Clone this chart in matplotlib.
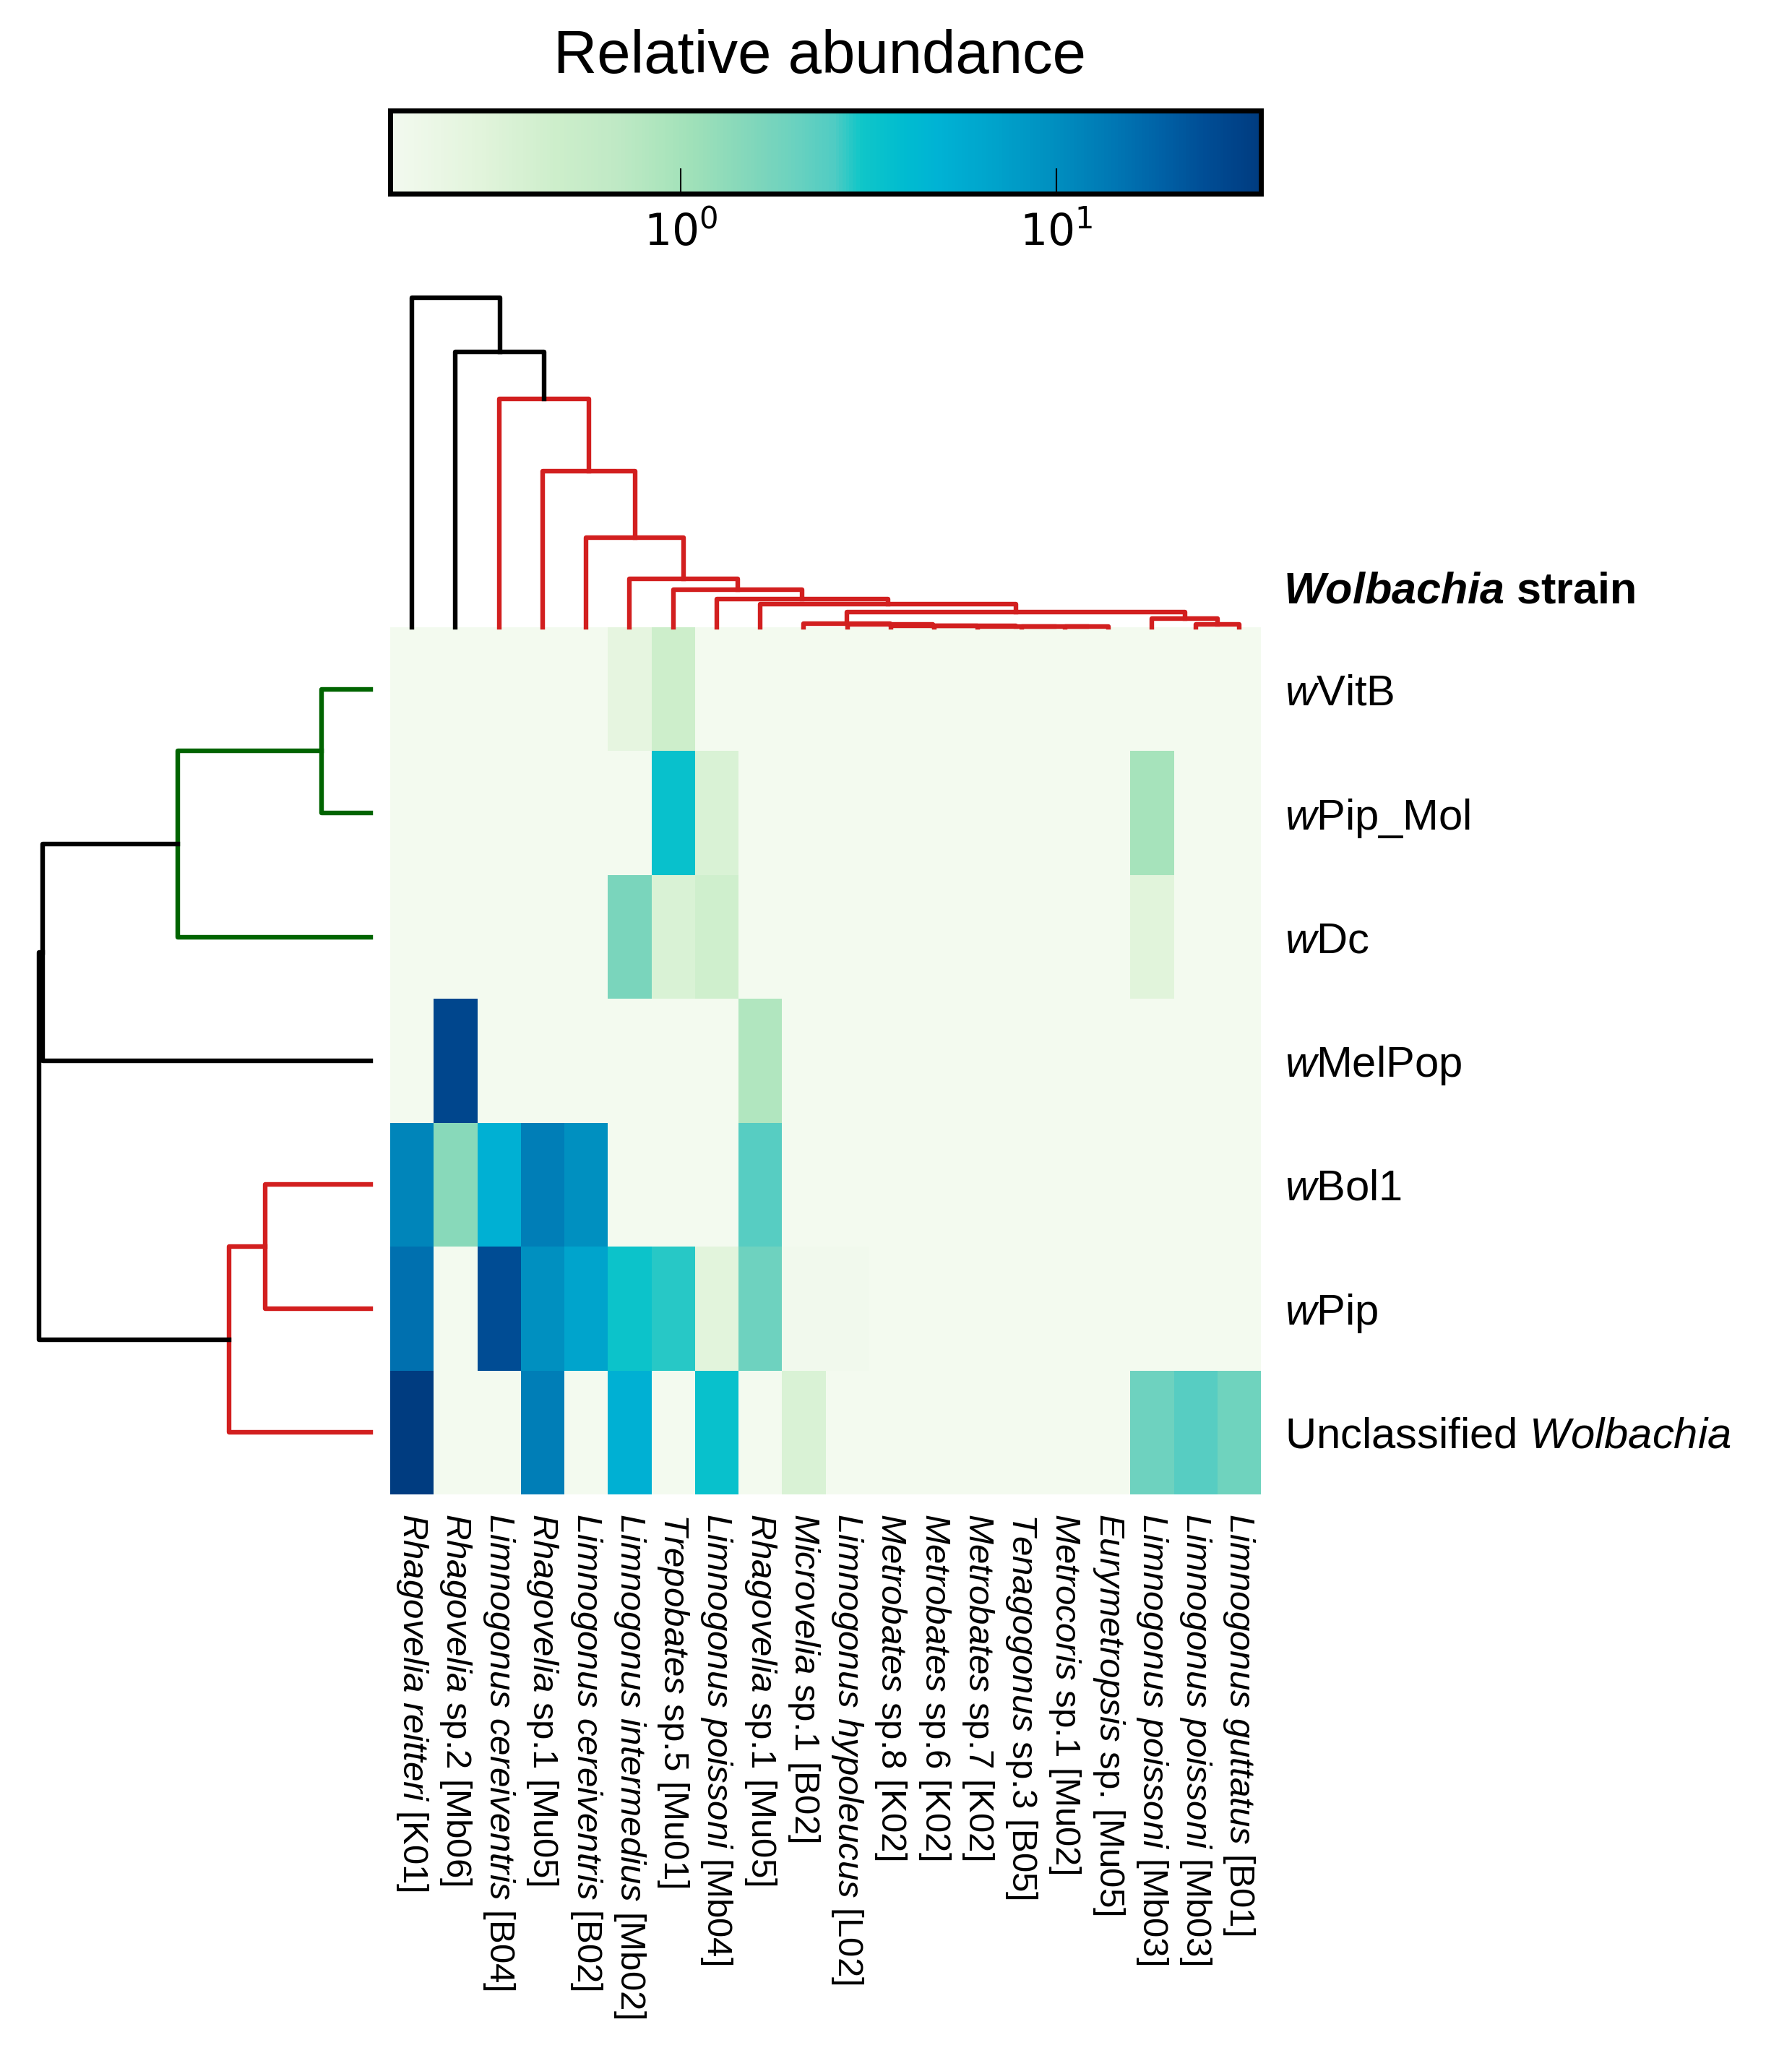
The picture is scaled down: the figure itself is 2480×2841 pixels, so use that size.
import numpy as np
import matplotlib
matplotlib.use("Agg")
import matplotlib.pyplot as plt
from matplotlib.colors import LinearSegmentedColormap, LogNorm
from matplotlib.ticker import NullLocator

plt.rcParams['font.family'] = 'Liberation Sans'
plt.rcParams['mathtext.fontset'] = 'custom'
plt.rcParams['mathtext.rm'] = 'Liberation Sans'
plt.rcParams['mathtext.it'] = 'Liberation Sans:italic'
plt.rcParams['mathtext.bf'] = 'Liberation Sans:bold'
plt.rcParams['mathtext.bfit'] = 'Liberation Sans:italic:bold'

# rows, top to bottom (already in dendrogram order)
strains = ["$\\mathit{w}$VitB", "$\\mathit{w}$Pip_Mol", "$\\mathit{w}$Dc", "$\\mathit{w}$MelPop",
           "$\\mathit{w}$Bol1", "$\\mathit{w}$Pip", "Unclassified $\\mathit{Wolbachia}$"]

# columns, left to right: italic part + plain part
host_italic = ["Rhagovelia reitteri", "Rhagovelia", "Limnogonus cereiventris", "Rhagovelia",
               "Limnogonus cereiventris", "Limnogonus intermedius", "Trepobates",
               "Limnogonus poissoni", "Rhagovelia", "Microvelia", "Limnogonus hypoleucus",
               "Metrobates", "Metrobates", "Metrobates", "Tenagogonus", "Metrocoris",
               "Eurymetropsis", "Limnogonus poissoni", "Limnogonus poissoni", "Limnogonus guttatus"]
host_plain = ["[K01]", "sp.2 [Mb06]", "[B04]", "sp.1 [Mu05]", "[B02]", "[Mb02]", "sp.5 [Mu01]",
              "[Mb04]", "sp.1 [Mu05]", "sp.1 [B02]", "[L02]", "sp.8 [K02]", "sp.6 [K02]",
              "sp.7 [K02]", "sp.3 [B05]", "sp.1 [Mu02]", "sp. [Mu05]", "[Mb03]", "[Mb03]", "[B01]"]

# relative abundance, one list per strain (20 hosts)
wVitB =   [0, 0, 0, 0, 0, 0.26, 0.46, 0, 0, 0, 0, 0, 0, 0, 0, 0, 0, 0, 0, 0]
wPipMol = [0, 0, 0, 0, 0, 0, 3.4, 0.35, 0, 0, 0, 0, 0, 0, 0, 0, 0, 0.98, 0, 0]
wDc =     [0, 0, 0, 0, 0, 1.67, 0.35, 0.44, 0, 0, 0, 0, 0, 0, 0, 0, 0, 0.30, 0, 0]
wMelPop = [0, 28.0, 0, 0, 0, 0, 0, 0, 0.83, 0, 0, 0, 0, 0, 0, 0, 0, 0, 0, 0]
wBol1 =   [11.4, 1.42, 5.1, 12.7, 9.7, 0, 0, 0, 2.4, 0, 0, 0, 0, 0, 0, 0, 0, 0, 0, 0]
wPip =    [15.7, 0, 25.5, 9.7, 6.7, 3.2, 2.85, 0.29, 1.96, 0.18, 0.18, 0, 0, 0, 0, 0, 0, 0, 0, 0]
unclass = [35.0, 0, 0, 12.7, 0, 5.1, 0, 3.4, 0, 0.35, 0, 0, 0, 0, 0, 0, 0, 1.96, 2.4, 1.9]

vmin, vmax = 0.168, 35.1

# column linkage (scipy style ids), heights
col_a = [18, 17, 15, 14, 13, 12, 11, 10, 9, 28, 8, 7, 6, 5, 4, 3, 2, 1, 0]
col_b = [19, 20, 16, 22, 23, 24, 25, 26, 27, 21, 29, 30, 31, 32, 33, 34, 35, 36, 37]
col_h = [4, 12, 1.0, 1.2, 1.4, 1.6, 2.0, 4, 5, 21, 32, 39, 52, 67, 124, 216, 316, 381, 456]
col_c = ['r'] * 17 + ['k', 'k']

# row linkage
row_a = [0, 7, 8, 4, 10, 9]
row_b = [1, 2, 3, 5, 6, 11]
row_h = [68, 267, 454, 146, 196, 459]
row_c = ['g', 'g', 'k', 'r', 'r', 'k']

link_colors = {'r': '#d21f1f', 'g': '#006400', 'k': 'black'}

cmap = LinearSegmentedColormap.from_list("abund", [
    (0.00, "#f3faef"), (0.10, "#e2f4dc"), (0.19, "#cdeecb"), (0.26, "#bfe9c5"),
    (0.31, "#ade5bd"), (0.35, "#9ee0b9"), (0.42, "#7fd6bb"), (0.46, "#6dd2bf"),
    (0.51, "#50ccc3"), (0.54, "#10c6c8"), (0.59, "#00bcd0"), (0.63, "#00b2d4"),
    (0.69, "#00a4cc"), (0.76, "#0090c0"), (0.83, "#0078b4"), (0.88, "#0064a8"),
    (0.94, "#004c94"), (1.00, "#003c80")])


def draw_tree(ax, left, right, heights, colors, n, side):
    # walk the linkage and draw one bracket per merge
    pos = {i: i + 0.5 for i in range(n)}
    hgt = {i: 0.0 for i in range(n)}
    for k in range(len(left)):
        a, b, h = left[k], right[k], heights[k]
        xs = [pos[a], pos[a], pos[b], pos[b]]
        ys = [hgt[a], h, h, hgt[b]]
        if side == 'top':
            ax.plot(xs, ys, color=link_colors[colors[k]], lw=4.6, clip_on=False)
        else:
            ax.plot(ys, xs, color=link_colors[colors[k]], lw=4.6, clip_on=False)
        pos[n + k] = (pos[a] + pos[b]) / 2
        hgt[n + k] = h


W, H = 2480, 2841
fig = plt.figure(figsize=(W / 100, H / 100), dpi=100)


def box(x0, y0, x1, y1):
    return [x0 / W, 1 - y1 / H, (x1 - x0) / W, (y1 - y0) / H]


values = np.array([wVitB, wPipMol, wDc, wMelPop, wBol1, wPip, unclass])
nrow, ncol = values.shape

ax = fig.add_axes(box(540, 868, 1745, 2068))
mesh = ax.pcolormesh(np.arange(ncol + 1), np.arange(nrow + 1), np.maximum(values, vmin),
                     cmap=cmap, norm=LogNorm(vmin=vmin, vmax=vmax))
ax.set_xlim(0, ncol)
ax.set_ylim(nrow, 0)
for s in ax.spines.values():
    s.set_visible(False)
ax.yaxis.tick_right()
ax.set_yticks(np.arange(nrow) + 0.5)
ax.set_yticklabels(strains, fontsize=43)
col_labels = ["$\\mathit{" + a.replace(" ", "\\ ") + "}$ " + b for a, b in zip(host_italic, host_plain)]
ax.set_xticks(np.arange(ncol) + 0.5)
ax.set_xticklabels(col_labels, rotation=270, fontsize=35.5)
ax.tick_params(axis='y', length=0, pad=24)
ax.tick_params(axis='x', length=0, pad=19)

# top dendrogram
axt = fig.add_axes(box(540, 398, 1745, 868))
draw_tree(axt, col_a, col_b, col_h, col_c, ncol, 'top')
axt.set_xlim(0, ncol)
axt.set_ylim(0, 470)
axt.axis('off')

# left dendrogram
axl = fig.add_axes(box(40, 868, 513, 2068))
draw_tree(axl, row_a, row_b, row_h, row_c, nrow, 'left')
axl.set_ylim(nrow, 0)
axl.set_xlim(473, 0)
axl.axis('off')

# colour bar
cax = fig.add_axes(box(540, 153, 1745, 268))
cbar = fig.colorbar(mesh, cax=cax, orientation='horizontal')
cbar.set_ticks([1, 10])
cax.xaxis.set_minor_locator(NullLocator())
cax.tick_params(axis='x', direction='in', length=25, width=1.5, labelsize=43, pad=18,
                labelfontfamily='DejaVu Sans')
cbar.outline.set_linewidth(5)

fig.text(1135 / W, 1 - 101 / H, "Relative abundance", ha='center', va='baseline', fontsize=60)
fig.text(1776 / W, 1 - 835 / H, "$\\mathbfit{Wolbachia}$ strain", fontsize=44,
         fontweight='bold', va='baseline')

fig.savefig("out.png", dpi=100)
